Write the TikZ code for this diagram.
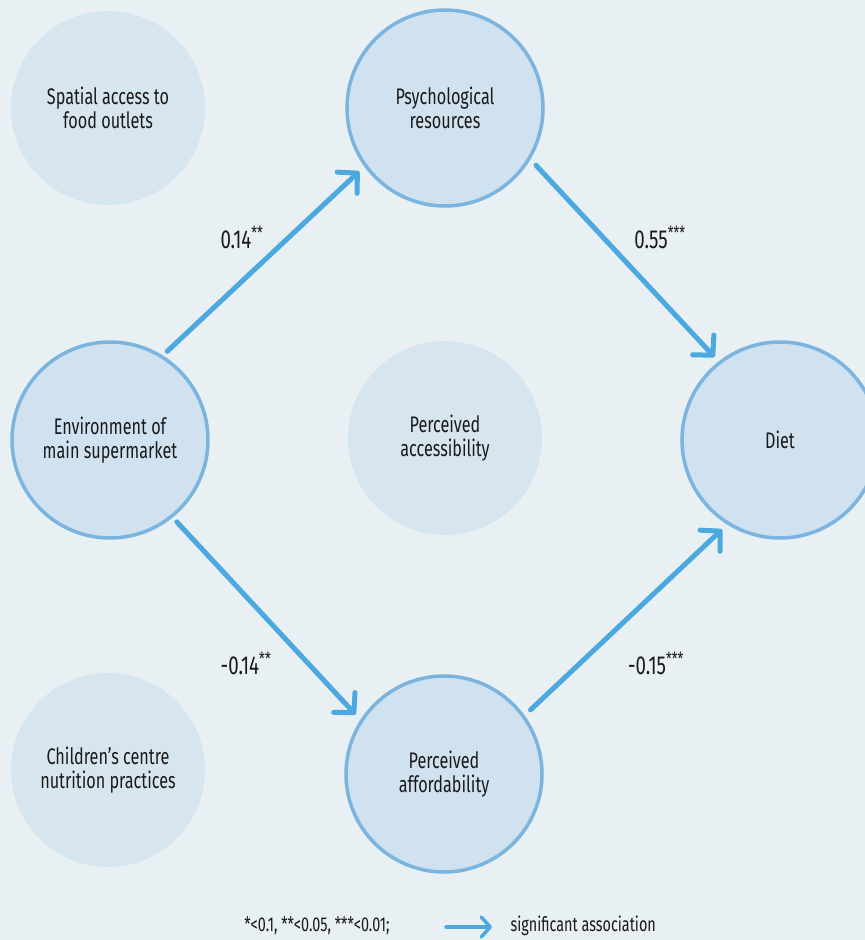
\documentclass[tikz,border=0pt]{standalone}
\usepackage{fontspec}
\setmainfont[FakeStretch=0.72]{Fira Sans}
\usetikzlibrary{arrows.meta}
\definecolor{bgc}{HTML}{E8F0F4}
\definecolor{arrc}{HTML}{4BA9E0}
\definecolor{ringc}{HTML}{7AB4DF}
\definecolor{fillc}{HTML}{D0E1EF}
\definecolor{fadec}{HTML}{D7E5EE}
\definecolor{txtc}{HTML}{1A1A1A}
\tikzset{
  var/.style={circle, minimum size=196pt, inner sep=0pt, fill=fillc, draw=ringc, line width=3.5pt,
    text=txtc, align=center, font=\fontsize{22.5}{24}\selectfont},
  faded/.style={circle, minimum size=194pt, inner sep=0pt, fill=fadec,
    text=txtc, align=center, font=\fontsize{22.5}{24}\selectfont},
  assoc/.style={draw=arrc, line width=5pt, line cap=round,
    -{Straight Barb[length=14pt,width=29pt,round]}},
  coef/.style={text=txtc, font=\fontsize{26}{28}\selectfont},
  legtext/.style={text=txtc, font=\fontsize{20}{22}\selectfont}
}
\begin{document}
\begin{tikzpicture}[x=1pt,y=-1pt]
\useasboundingbox (0,0) rectangle (865,940);
\clip (0,0) rectangle (865,940);
\fill[bgc] (0,0) rectangle (865,940);
\node[faded] (spatial) at (108,108) {Spatial access to\\food outlets};
\node[faded] (access) at (445,438) {Perceived\\accessibility};
\node[faded] (children) at (108,770) {Children’s centre\\nutrition practices};
\node[var] (psych) at (445,108) {Psychological\\resources};
\node[var] (env) at (110,440) {Environment of\\main supermarket};
\node[var] (diet) at (780,440) {Diet};
\node[var] (afford) at (444,774) {Perceived\\affordability};
\draw[assoc, shorten <=6pt, shorten >=7pt] (env.58) -- (psych.216);
\draw[assoc, shorten <=8pt, shorten >=6pt] (psych.-31) -- (diet.128);
\draw[assoc, shorten <=6pt, shorten >=7pt] (env.-51.6) -- (afford.147);
\draw[assoc, shorten <=8pt, shorten >=7pt] (afford.36.7) -- (diet.238);
\node[coef] (c1) at (242,237) {0.14\textsuperscript{**}};
\node[coef] (c2) at (660,237) {0.55\textsuperscript{***}};
\node[coef] (c3) at (246,663) {-0.14\textsuperscript{**}};
\node[coef] (c4) at (656,663) {-0.15\textsuperscript{***}};
\node[legtext] (key) at (317,926) {*<0.1, **<0.05, ***<0.01;};
\coordinate (la) at (446,927);
\coordinate (lb) at (492,927);
\draw[draw=arrc, line width=3.5pt, line cap=round, -{Straight Barb[length=9pt,width=20pt,round]}] (la) -- (lb);
\node[legtext, anchor=west] (sig) at (507,926) {significant association};
\end{tikzpicture}
\end{document}
